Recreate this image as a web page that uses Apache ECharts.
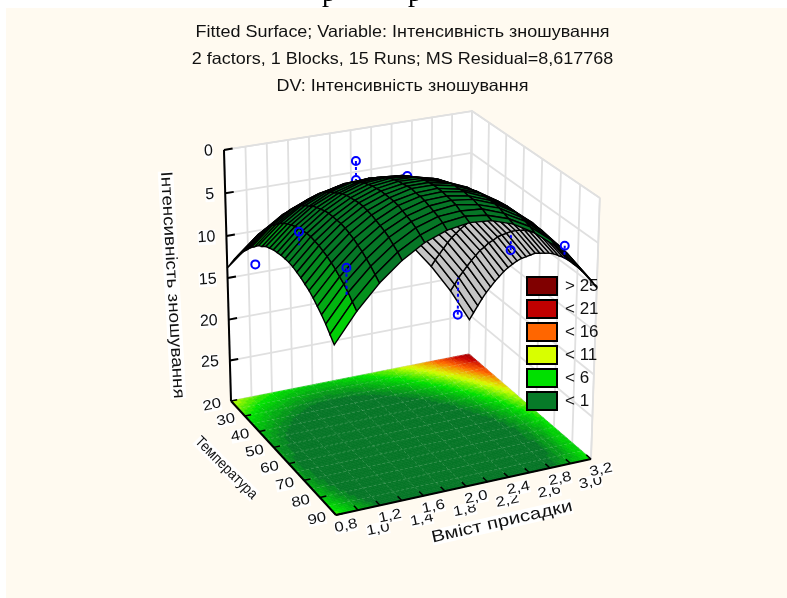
<!DOCTYPE html>
<html><head><meta charset="utf-8"><style>html,body{margin:0;padding:0;background:#fff}#c{width:787px;height:598px}</style>
<script src="https://cdn.jsdelivr.net/npm/echarts@6/dist/echarts.min.js"></script></head><body><div id="c"></div>
<script>
const titleLines=['Fitted Surface; Variable: Інтенсивність зношування','2 factors, 1 Blocks, 15 Runs; MS Residual=8,617768','DV: Інтенсивність зношування'];
const xTicks=[0.8,1.0,1.2,1.4,1.6,1.8,2.0,2.2,2.4,2.6,2.8,3.0,3.2];
const xTickLabels=['0,8','1,0','1,2','1,4','1,6','1,8','2,0','2,2','2,4','2,6','2,8','3,0','3,2'];
const tTicks=[20,30,40,50,60,70,80,90];
const zTicks=[0,5,10,15,20,25];
const legendNames=['> 25','< 21','< 16','< 11','< 6','< 1'];
const legendColors=['#800000','#c00000','#ff6600','#d8ff00','#00e000','#067a28'];
const pointX=[1.0,1.0,1.06,1.9,1.9,2.0,2.91,3.0,3.07,2.91];
const pointT=[25,55,80,30,30,55,30,55,80,30];
const pointZ=[13,4.5,4.65,2,4.2,0.3,12,10.9,6.6,22.6];
const pointFit=[13,6,7.6,4.2,4.2,0.8,12,9,8,18];
const pointOnTop=[0,1,1,0,0,0,0,1,1,0];
const surfaceX=[0.8,1.0,1.2,1.4,1.6,1.8,2.0,2.2,2.4,2.6,2.8,3.0,3.2];
const surfaceT=[20,22.5,25,27.5,30,32.5,35,37.5,40,42.5,45,47.5,50,52.5,55,57.5,60,62.5,65,67.5,70,72.5,75,77.5,80,82.5,85,87.5,90];
const surfaceZ=[
[13.8,11.7,10.1,9.1,8.7,8.8,9.5,10.8,12.6,15.0,18.0,21.5,25.6],
[12.9,10.8,9.2,8.2,7.8,7.9,8.6,9.8,11.6,13.9,16.8,20.3,24.3],
[12.0,9.9,8.4,7.4,6.9,7.0,7.6,8.8,10.6,12.8,15.7,19.0,23.0],
[11.2,9.1,7.6,6.6,6.1,6.2,6.8,7.9,9.6,11.8,14.6,17.9,21.7],
[10.5,8.4,6.8,5.8,5.3,5.4,6.0,7.1,8.7,10.8,13.5,16.8,20.5],
[9.8,7.7,6.2,5.1,4.6,4.6,5.2,6.2,7.8,9.9,12.5,15.7,19.4],
[9.2,7.1,5.5,4.5,4.0,3.9,4.4,5.5,7.0,9.0,11.6,14.7,18.3],
[8.6,6.5,4.9,3.9,3.3,3.3,3.8,4.7,6.2,8.2,10.7,13.7,17.3],
[8.1,6.0,4.4,3.3,2.8,2.7,3.1,4.1,5.5,7.5,9.9,12.9,16.3],
[7.6,5.5,3.9,2.8,2.2,2.1,2.5,3.4,4.8,6.7,9.1,12.0,15.4],
[7.3,5.1,3.5,2.4,1.8,1.6,2.0,2.9,4.2,6.1,8.4,11.3,14.6],
[6.9,4.8,3.2,2.0,1.3,1.2,1.5,2.3,3.6,5.4,7.7,10.5,13.8],
[6.7,4.5,2.8,1.7,1.0,0.8,1.0,1.8,3.1,4.9,7.1,9.9,13.1],
[6.5,4.3,2.6,1.4,0.6,0.4,0.6,1.4,2.6,4.3,6.6,9.3,12.5],
[6.4,4.1,2.4,1.1,0.3,0.1,0.3,1.0,2.2,3.9,6.1,8.7,11.9],
[6.3,4.0,2.2,0.9,0.1,-0.2,0.0,0.6,1.8,3.5,5.6,8.2,11.3],
[6.3,3.9,2.1,0.8,-0.1,-0.4,-0.3,0.3,1.5,3.1,5.2,7.8,10.9],
[6.3,3.9,2.1,0.7,-0.2,-0.6,-0.5,0.1,1.2,2.8,4.8,7.4,10.5],
[6.4,4.0,2.1,0.6,-0.3,-0.7,-0.7,-0.1,0.9,2.5,4.5,7.1,10.1],
[6.6,4.1,2.1,0.6,-0.3,-0.8,-0.8,-0.3,0.8,2.3,4.3,6.8,9.8],
[6.8,4.3,2.2,0.7,-0.3,-0.9,-0.9,-0.4,0.6,2.1,4.1,6.6,9.6],
[7.1,4.5,2.4,0.8,-0.3,-0.8,-0.9,-0.4,0.5,2.0,4.0,6.5,9.4],
[7.4,4.8,2.6,1.0,-0.2,-0.8,-0.9,-0.5,0.5,1.9,3.9,6.4,9.3],
[7.8,5.1,2.9,1.2,0.0,-0.7,-0.8,-0.4,0.5,1.9,3.8,6.3,9.3],
[8.3,5.5,3.2,1.4,0.2,-0.5,-0.7,-0.4,0.5,1.9,3.9,6.3,9.3],
[8.8,5.9,3.6,1.7,0.4,-0.3,-0.6,-0.2,0.6,2.0,3.9,6.4,9.4],
[9.4,6.4,4.0,2.1,0.7,-0.1,-0.3,-0.1,0.8,2.1,4.1,6.5,9.5],
[10.1,7.0,4.5,2.5,1.1,0.2,-0.1,0.2,1.0,2.3,4.2,6.7,9.7],
[10.8,7.6,5.0,3.0,1.5,0.6,0.2,0.4,1.2,2.6,4.5,7.0,10.0]];
const cam=[[256.74,76.17,-16.2,231],[-32.85,69.81,-257.2,401],[.03996,-.0858,-.041,1]];
const X0=.8,X1=3.2,T0=20,T1=90,ZMAX=30;
function proj(x,t,z){const u=(x-X0)/(X1-X0),v=(t-T0)/(T1-T0),h=1-z/ZMAX;const w=cam[2][0]*u+cam[2][1]*v+cam[2][2]*h+cam[2][3];
 return [(cam[0][0]*u+cam[0][1]*v+cam[0][2]*h+cam[0][3])/w,(cam[1][0]*u+cam[1][1]*v+cam[1][2]*h+cam[1][3])/w,w];}
const ramp=[[4.8,[6,118,38]],[9.6,[0,224,0]],[14,[216,255,0]],[18.5,[255,102,0]],[22.8,[200,0,0]],[28,[128,0,0]]];
function col(z){if(z<=ramp[0][0])return 'rgb('+ramp[0][1]+')';for(let i=1;i<ramp.length;i++){if(z<=ramp[i][0]){const f=(z-ramp[i-1][0])/(ramp[i][0]-ramp[i-1][0]);const a=ramp[i-1][1],b=ramp[i][1];return 'rgb('+a.map((c,k)=>Math.round(c+(b[k]-c)*f))+')';}}return 'rgb(128,0,0)';}
const FF='"Liberation Sans",Arial,sans-serif';
function mk(api){return (x,t,z)=>{const p=proj(x,t,z);const c=api.coord([p[0],p[1]]);return c;};}
function line(a,b,stroke,lw,dash){return {type:'line',shape:{x1:a[0],y1:a[1],x2:b[0],y2:b[1]},style:{stroke,lineWidth:lw,lineDash:dash||null},silent:true};}
function txt(p,s,size,rotDeg,align,sx){return {type:'text',x:p[0],y:p[1],rotation:(rotDeg||0)*Math.PI/180,scaleX:sx||1,silent:true,style:{text:s,fontSize:size,lineHeight:size-1,fontFamily:FF,fill:'#111',align:align||'center',verticalAlign:'middle',backgroundColor:'#fff'}};}
function renderWalls(params,api){const P=mk(api);const ch=[];
 const poly=pts=>({type:'polygon',shape:{points:pts},style:{fill:'#fff',stroke:'#dcdcdc',lineWidth:1.5},silent:true});
 ch.push(poly([P(X0,T0,0),P(X1,T0,0),P(X1,T0,ZMAX),P(X0,T0,ZMAX)]));
 ch.push(poly([P(X1,T0,0),P(X1,T1,0),P(X1,T1,ZMAX),P(X1,T0,ZMAX)]));
 const g='#e0e0e0';
 xTicks.forEach(x=>ch.push(line(P(x,T0,0),P(x,T0,ZMAX),g,1.8)));
 tTicks.forEach(t=>ch.push(line(P(X1,t,0),P(X1,t,ZMAX),g,1.8)));
 zTicks.forEach(z=>{ch.push(line(P(X0,T0,z),P(X1,T0,z),g,1.8));ch.push(line(P(X1,T0,z),P(X1,T1,z),g,1.8));});
 return {type:'group',children:ch};}
const NU=surfaceX.length-1,NV=surfaceT.length-1;
const cells=[];for(let j=0;j<NV;j++)for(let i=0;i<NU;i++)cells.push([i,j]);
function renderFloor(params,api){const P=mk(api);const i=api.value(0),j=api.value(1),SU=5,SV=3,ch=[];
 const x0=surfaceX[i],x1=surfaceX[i+1],t0=surfaceT[j],t1=surfaceT[j+1];
 const a=surfaceZ[j][i],b=surfaceZ[j][i+1],c=surfaceZ[j+1][i],d=surfaceZ[j+1][i+1];
 for(let m=0;m<SV;m++)for(let n=0;n<SU;n++){const fu=(n+.5)/SU,fv=(m+.5)/SV;const val=a*(1-fu)*(1-fv)+b*fu*(1-fv)+c*(1-fu)*fv+d*fu*fv;const q=Math.round(val/.8)*.8;const cc=col(q);
  const xa=x0+(x1-x0)*n/SU,xb=x0+(x1-x0)*(n+1)/SU,ta=t0+(t1-t0)*m/SV,tb=t0+(t1-t0)*(m+1)/SV;
  ch.push({type:'polygon',shape:{points:[P(xa,ta,ZMAX),P(xb,ta,ZMAX),P(xb,tb,ZMAX),P(xa,tb,ZMAX)]},style:{fill:cc,stroke:cc,lineWidth:.7},silent:true});}
 return {type:'group',children:ch};}
function renderAxes(params,api){const P=mk(api);const ch=[];const off=(p,dx,dy)=>[p[0]+dx,p[1]+dy];
 const fm='rgba(220,240,220,.2)';
 surfaceX.forEach(x=>ch.push(line(P(x,T0,ZMAX),P(x,T1,ZMAX),fm,1,[3,2])));
 surfaceT.forEach((t,k)=>{if(k%2==0)ch.push(line(P(X0,t,ZMAX),P(X1,t,ZMAX),fm,1,[3,2]));});
 ch.push(line(P(X0,T0,0),P(X0,T0,ZMAX),'#000',2));
 ch.push(line(P(X0,T0,ZMAX),P(X0,T1,ZMAX),'#000',2));
 ch.push(line(P(X0,T1,ZMAX),P(X1,T1,ZMAX),'#000',2));
 zTicks.forEach(z=>{ch.push(line(P(X0,T0,z),P(X0+.08,T0,z),'#000',2));ch.push(txt(off(P(X0,T0,z),-11,1),String(z),16,3,'right'));});
 tTicks.forEach(t=>{ch.push(line(P(X0,t,ZMAX),P(X0+.06,t,ZMAX),'#000',1.5));ch.push(txt(off(P(X0,t,ZMAX),-19,4),String(t),14,12,'center',1.2));});
 xTicks.forEach((x,i)=>{ch.push(line(P(x,T1,ZMAX),P(x,T1-2.5,ZMAX),'#000',1.5));const d=i%2?[20,19]:[10,11];ch.push(txt(off(P(x,T1,ZMAX),d[0],d[1]),xTickLabels[i],14,12,'center',1.2));});
 ch.push(txt(api.coord([172,285]),'Інтенсивність зношування',16.5,-86.7,'center',1.14));
 ch.push(txt(api.coord([226,468]),'Температура',15,-45,'center',.9));
 ch.push(txt(api.coord([502,522]),'Вміст присадки',16.5,12.9,'center',1.23));
 return {type:'group',children:ch};}
const items=[];
cells.forEach(c=>{const x=(surfaceX[c[0]]+surfaceX[c[0]+1])/2,t=(surfaceT[c[1]]+surfaceT[c[1]+1])/2;const z=(surfaceZ[c[1]][c[0]]+surfaceZ[c[1]+1][c[0]+1])/2;items.push([0,c[0],c[1],proj(x,t,z)[2]]);});
pointX.forEach((x,k)=>items.push([1,k,0,pointOnTop[k]?-1:proj(x,pointT[k],pointZ[k])[2]]));
items.sort((a,b)=>b[3]-a[3]);
function renderSurf(params,api){const P=mk(api);const kind=api.value(0),i=api.value(1),j=api.value(2);
 if(kind===0){const A=P(surfaceX[i],surfaceT[j],surfaceZ[j][i]),B=P(surfaceX[i+1],surfaceT[j],surfaceZ[j][i+1]),C=P(surfaceX[i+1],surfaceT[j+1],surfaceZ[j+1][i+1]),D=P(surfaceX[i],surfaceT[j+1],surfaceZ[j+1][i]);
  const area=((B[0]-A[0])*(D[1]-A[1])-(B[1]-A[1])*(D[0]-A[0]))+((D[0]-C[0])*(B[1]-C[1])-(D[1]-C[1])*(B[0]-C[0]));
  const m=(surfaceZ[j][i]+surfaceZ[j][i+1]+surfaceZ[j+1][i]+surfaceZ[j+1][i+1])/4;
  return {type:'polygon',shape:{points:[A,B,C,D]},style:{fill:area>0?col(m):'#c4c4c4',stroke:'#000',lineWidth:1.4},silent:true};}
 const p=P(pointX[i],pointT[i],pointZ[i]),q=P(pointX[i],pointT[i],pointFit[i]);
 return {type:'group',children:[line(p,q,'#0000ff',2,[3,3]),{type:'circle',shape:{cx:p[0],cy:p[1],r:4},style:{fill:'none',stroke:'#0000ff',lineWidth:2},silent:true}]};}
const base={type:'custom',coordinateSystem:'cartesian2d',clip:false,silent:true,animation:false};
const dummy=legendNames.map((n,i)=>({type:'bar',name:n,data:[],itemStyle:{color:legendColors[i]}}));
const chart=echarts.init(document.getElementById('c'),null,{renderer:'canvas'});
const tt=(s,y)=>({type:'text',x:402.5,y,z:-8,scaleX:1.09,style:{text:s,fontFamily:FF,fontSize:16.5,fill:'#111',textAlign:'center',textVerticalAlign:'middle'},silent:true});
const rr=x=>({type:'text',x,y:8,z:-9,style:{text:'р',fontFamily:'"Liberation Serif",serif',fontSize:28,fill:'#000',textAlign:'center',textVerticalAlign:'bottom'},silent:true});
chart.setOption({animation:false,backgroundColor:'#fff',
 grid:{left:0,right:0,top:0,bottom:0},
 xAxis:{type:'value',min:0,max:787,show:false},yAxis:{type:'value',min:0,max:598,inverse:true,show:false},
 legend:{orient:'vertical',left:526,top:276,padding:0,data:legendNames,icon:'rect',itemWidth:30,itemHeight:18,itemGap:3,z:4,selectedMode:false,itemStyle:{borderColor:'#000',borderWidth:2},textStyle:{fontFamily:FF,fontSize:17,color:'#111',padding:[0,0,0,3]}},
 graphic:[{type:'rect',z:-10,shape:{x:6,y:8,width:781,height:590},style:{fill:'#fffaf0'},silent:true},rr(329),rr(415),tt(titleLines[0],32),tt(titleLines[1],59),tt(titleLines[2],86)],
 series:[...dummy,
  {...base,z:1,data:[[0,0]],renderItem:renderWalls},
  {...base,z:2,data:cells,renderItem:renderFloor},
  {...base,z:3,data:[[0,0]],renderItem:renderAxes},
  {...base,z:5,data:items,renderItem:renderSurf}]});
</script></body></html>
